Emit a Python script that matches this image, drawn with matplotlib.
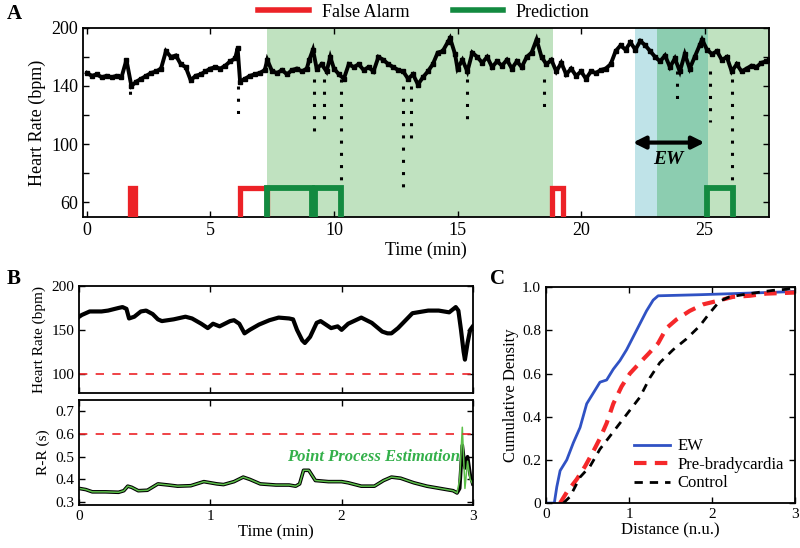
import matplotlib
matplotlib.use("Agg")
import matplotlib.pyplot as plt
from matplotlib.lines import Line2D
import numpy as np

plt.rcParams['font.family'] = ['Liberation Serif', 'DejaVu Serif']
plt.rcParams['mathtext.fontset'] = 'stix'

# ---------------- Panel A data ----------------
hr_t = [0.0, 0.2, 0.4, 0.6, 0.8, 1.0, 1.2, 1.4, 1.6, 1.8, 2.0, 2.2, 2.4, 2.6, 2.8, 3.0,
        3.2, 3.4, 3.6, 3.8, 4.0, 4.2, 4.4, 4.6, 4.8, 5.0, 5.2, 5.4, 5.6, 5.8, 6.0, 6.1,
        6.2, 6.4, 6.6, 6.8, 7.0, 7.2, 7.3, 7.5, 7.7, 7.9, 8.1, 8.3, 8.5, 8.7, 8.9, 9.0,
        9.15, 9.3, 9.5, 9.7, 9.85, 10.0, 10.2, 10.4, 10.6, 10.8, 11.0, 11.2, 11.4, 11.6,
        11.8, 12.0, 12.2, 12.4, 12.6, 12.8, 13.0, 13.2, 13.4, 13.6, 13.8, 14.0, 14.2,
        14.4, 14.6, 14.7, 14.9, 15.0, 15.2, 15.4, 15.6, 15.8, 16.0, 16.2, 16.4, 16.6,
        16.8, 17.0, 17.2, 17.4, 17.6, 17.8, 18.0, 18.2, 18.4, 18.6, 18.8, 19.0, 19.2,
        19.4, 19.6, 19.8, 20.0, 20.2, 20.4, 20.6, 20.8, 21.0, 21.2, 21.4, 21.6, 21.8,
        22.0, 22.2, 22.4, 22.6, 22.8, 23.0, 23.2, 23.4, 23.6, 23.8, 24.0, 24.2, 24.4,
        24.6, 24.8, 24.9, 25.1, 25.3, 25.5, 25.7, 25.9, 26.1, 26.3, 26.5, 26.7, 26.9,
        27.1, 27.3, 27.5, 27.6]
hr_v = [149, 147, 148, 146, 147, 146, 147, 146, 158, 140, 143, 145, 147, 149, 150, 152,
        164, 160, 161, 155, 153, 144, 147, 148, 150, 152, 153, 152, 154, 157, 159, 166,
        143, 145, 147, 148, 149, 151, 158, 150, 149, 151, 148, 151, 152, 150, 152, 158,
        165, 152, 155, 150, 160, 152, 148, 145, 155, 153, 155, 151, 153, 150,
        160, 158, 155, 153, 151, 150, 145, 148, 141, 146, 150, 155, 163,
        164, 170, 173, 162, 152, 158, 150, 163, 160, 156, 160, 153, 157,
        154, 158, 152, 157, 153, 160, 163, 172, 160, 155, 158, 150, 156,
        148, 152, 147, 150, 145, 150, 149, 151, 152, 155, 164, 168, 165,
        170, 165, 171, 168, 164, 160, 157, 161, 153, 159, 150, 162, 152,
        160, 168, 172, 165, 162, 164, 158, 160, 150, 155, 150, 152, 154,
        153, 156, 157, 158]

dip_t = [1.75, 6.1, 9.2, 9.6, 10.3, 12.8, 13.1, 15.4, 18.5, 23.9, 25.2, 26.1]
dip_top = [145, 140, 145, 145, 145, 140, 140, 145, 145, 150, 150, 145]
dip_min = [134, 115, 106, 113, 73, 64, 102, 114, 124, 127, 115, 74]

false_alarm_start = [1.75, 6.2, 18.82]
false_alarm_end = [1.93, 7.27, 19.25]
prediction_start = [7.3, 9.25, 25.1]
prediction_end = [9.12, 10.3, 26.15]

shade_green1 = (7.27, 18.87)
shade_blue = (22.2, 23.07)
shade_dark = (23.07, 25.15)
shade_green2 = (25.15, 27.6)
ew_range = (22.1, 25.0)

yA_ticks = [60, 80, 100, 120, 140, 160, 180]
yA_labels = ['60', '', '100', '', '140', '', '200']

# ---------------- Panel B data ----------------
b_t = [0, 0.02, 0.08, 0.17, 0.22, 0.3, 0.33, 0.36, 0.38, 0.42, 0.47, 0.51, 0.56, 0.6,
       0.63, 0.72, 0.81, 0.86, 0.93, 0.98, 1.02, 1.07, 1.15, 1.18, 1.22, 1.26, 1.3,
       1.37, 1.45, 1.52, 1.6, 1.63, 1.66, 1.7, 1.72, 1.76, 1.81, 1.84, 1.92, 1.97, 2.0,
       2.05, 2.15, 2.23, 2.31, 2.35, 2.38, 2.43, 2.54, 2.66, 2.74, 2.82, 2.87, 2.89,
       2.91, 2.93, 2.94, 2.96, 2.98, 3.0]
b_hr = [165, 167, 171, 171, 172, 175, 176, 174, 163, 165, 171, 172, 168, 162,
        160, 162, 165, 163, 157, 152, 157, 154, 160, 161, 157, 146, 150,
        156, 161, 164, 163, 162, 150, 138, 135, 142, 158, 160, 152, 154, 150,
        157, 164, 158, 148, 146, 146, 152, 169, 172, 172, 170, 176, 172,
        150, 125, 116, 135, 150, 154]

rr_t = [0, 0.05, 0.1, 0.2, 0.3, 0.34, 0.37, 0.4, 0.45, 0.52, 0.6, 0.68, 0.75, 0.85,
        0.95, 1.0, 1.05, 1.1, 1.18, 1.25, 1.3, 1.38, 1.5, 1.6, 1.65, 1.68, 1.71, 1.75,
        1.8, 1.9, 2.0, 2.05, 2.15, 2.25, 2.32, 2.38, 2.45, 2.55, 2.65, 2.75, 2.85, 2.88,
        2.9, 2.92, 2.94, 2.96, 2.98, 3.0]
rr_v = [0.36, 0.355, 0.345, 0.345, 0.343, 0.35, 0.37, 0.365, 0.35, 0.352, 0.38, 0.375,
        0.37, 0.372, 0.39, 0.385, 0.38, 0.377, 0.39, 0.41, 0.40, 0.38, 0.375, 0.375,
        0.37, 0.38, 0.44, 0.44, 0.395, 0.39, 0.39, 0.385, 0.37, 0.37, 0.395, 0.41,
        0.405, 0.385, 0.37, 0.36, 0.35, 0.34, 0.36, 0.55, 0.45, 0.50, 0.42, 0.38]
pp_v = [0.36, 0.355, 0.345, 0.345, 0.343, 0.35, 0.37, 0.365, 0.35, 0.352, 0.38, 0.375,
        0.37, 0.372, 0.39, 0.385, 0.38, 0.377, 0.39, 0.41, 0.40, 0.38, 0.375, 0.375,
        0.37, 0.38, 0.44, 0.44, 0.395, 0.39, 0.39, 0.385, 0.37, 0.37, 0.395, 0.41,
        0.405, 0.385, 0.37, 0.36, 0.35, 0.34, 0.40, 0.63, 0.36, 0.48, 0.40, 0.38]

# ---------------- Panel C data ----------------
ew_x = [0, 0.1, 0.13, 0.17, 0.25, 0.33, 0.41, 0.49, 0.57, 0.65, 0.73, 0.81, 0.89, 0.97,
        1.05, 1.13, 1.21, 1.29, 1.35, 1.85, 2.25, 2.65, 3.0]
ew_y = [0, 0, 0.075, 0.15, 0.2, 0.28, 0.35, 0.46, 0.51, 0.56, 0.57, 0.62, 0.66, 0.71,
        0.77, 0.83, 0.89, 0.94, 0.96, 0.965, 0.97, 0.975, 0.98]
pb_x = [0.17, 0.25, 0.37, 0.47, 0.57, 0.65, 0.73, 0.81, 0.91, 1.01, 1.13, 1.23, 1.35,
        1.45, 1.57, 1.73, 1.89, 2.05, 2.25, 2.45, 2.65, 3.0]
pb_y = [0, 0.05, 0.11, 0.17, 0.24, 0.30, 0.37, 0.46, 0.54, 0.60, 0.65, 0.69, 0.74,
        0.81, 0.85, 0.89, 0.92, 0.935, 0.955, 0.96, 0.97, 0.975]
ct_x = [0.21, 0.29, 0.41, 0.53, 0.65, 0.77, 0.89, 1.01, 1.13, 1.25, 1.37, 1.53, 1.69,
        1.85, 1.97, 2.09, 2.21, 2.45, 2.73, 2.89, 3.0]
ct_y = [0, 0.03, 0.12, 0.17, 0.25, 0.31, 0.37, 0.43, 0.49, 0.58, 0.65, 0.71, 0.76,
        0.82, 0.88, 0.935, 0.955, 0.97, 0.985, 0.99, 1.0]

RED = '#ec2227'
GREEN = '#138a40'
LIGHT_GREEN = '#c0e2c0'
LIGHT_BLUE = '#bfe3e8'
MID_GREEN = '#8ccdb0'

fig = plt.figure(figsize=(8, 5.48), dpi=100)

def style(ax, size):
    ax.tick_params(direction='in', top=True, right=True, labelsize=size, length=4, width=1)
    for s in ax.spines.values():
        s.set_linewidth(1.3)

# ---------------- Panel A ----------------
axA = fig.add_axes([0.104, 0.604, 0.857, 0.345])
xlimA = (-0.15, 27.6)
ylimA = (49.7, 180)
axA.axvspan(*shade_green1, color=LIGHT_GREEN, lw=0, zorder=0)
axA.axvspan(*shade_blue, color=LIGHT_BLUE, lw=0, zorder=0)
axA.axvspan(*shade_dark, color=MID_GREEN, lw=0, zorder=0)
axA.axvspan(*shade_green2, color=LIGHT_GREEN, lw=0, zorder=0)
axA.plot(hr_t, hr_v, color='black', lw=2.8, marker='s', ms=2.5, zorder=3,
         solid_joinstyle='miter')
for t, top, mn in zip(dip_t, dip_top, dip_min):
    axA.plot([t, t], [top, mn], color='black', lw=2.2, ls=(0, (1, 3)), zorder=3)
bracket_top = 70
for s, e in zip(false_alarm_start, false_alarm_end):
    axA.plot([s, s, e, e], [ylimA[0], bracket_top, bracket_top, ylimA[0]], color=RED,
             lw=3.8, solid_joinstyle='miter', solid_capstyle='butt', zorder=4)
for s, e in zip(prediction_start, prediction_end):
    axA.plot([s, s, e, e], [ylimA[0], bracket_top, bracket_top, ylimA[0]], color=GREEN,
             lw=4.2, solid_joinstyle='miter', solid_capstyle='butt', zorder=5)
axA.annotate('', xy=(ew_range[0], 101), xytext=(ew_range[1], 101),
             arrowprops=dict(arrowstyle='<|-|>', lw=3, color='black', mutation_scale=18,
                             shrinkA=0, shrinkB=0), zorder=6)
axA.text(sum(ew_range) / 2, 89, 'EW', fontsize=14, fontstyle='italic', fontweight='bold',
         ha='center', va='center')
axA.set_xlim(*xlimA)
axA.set_ylim(*ylimA)
axA.set_xticks([0, 5, 10, 15, 20, 25])
axA.set_yticks(yA_ticks)
axA.set_yticklabels(yA_labels)
style(axA, 13)
axA.set_xlabel('Time (min)', fontsize=13, labelpad=2)
axA.set_ylabel('Heart Rate (bpm)', fontsize=13, labelpad=4)

leg_handles = [Line2D([], [], color=RED, lw=4), Line2D([], [], color=GREEN, lw=4)]
fig.legend(leg_handles, ['False Alarm', 'Prediction'], loc='center', ncol=2,
           bbox_to_anchor=(0.53, 0.978), frameon=False, fontsize=13, handlelength=2.8,
           columnspacing=2.4, handletextpad=0.7)

# ---------------- Panel B ----------------
axB1 = fig.add_axes([0.099, 0.283, 0.492, 0.195])
axB1.plot(b_t, b_hr, color='black', lw=3.0)
axB1.axhline(100, color=RED, ls=(0, (5, 5)), lw=1.2)
axB1.set_xlim(0, 3)
axB1.set_ylim(78, 200)
axB1.set_xticks([0, 1, 2, 3])
axB1.set_xticklabels([])
axB1.set_yticks([100, 150, 200])
style(axB1, 11)
axB1.set_ylabel('Heart Rate (bpm)', fontsize=11, labelpad=4)

axB2 = fig.add_axes([0.099, 0.0785, 0.492, 0.1915])
axB2.plot(rr_t, rr_v, color='black', lw=2.6)
axB2.plot(rr_t, pp_v, color='#5cc04a', lw=1.1)
axB2.axhline(0.6, color=RED, ls=(0, (5, 5)), lw=1.2)
axB2.text(2.9, 0.5, 'Point Process Estimation', color='#33b04a', fontsize=12,
          fontstyle='italic', fontweight='bold', ha='right', va='center')
axB2.set_xlim(0, 3)
axB2.set_ylim(0.287, 0.75)
axB2.set_xticks([0, 1, 2, 3])
axB2.set_yticks([0.3, 0.4, 0.5, 0.6, 0.7])
axB2.set_yticklabels(['0.3', '0.4', '0.5', '0.6', '0.7'])
style(axB2, 11)
axB2.set_ylabel('R-R (s)', fontsize=11, labelpad=4)
axB2.set_xlabel('Time (min)', fontsize=12, labelpad=1)

# ---------------- Panel C ----------------
axC = fig.add_axes([0.6825, 0.082, 0.3115, 0.394])
axC.plot(ew_x, ew_y, color='#3052c4', lw=2.0, label='EW')
axC.plot(pb_x, pb_y, color='#f5282a', lw=3.0, ls=(0, (3, 2)), label='Pre-bradycardia')
axC.plot(ct_x, ct_y, color='black', lw=2.0, ls=(0, (3, 2.5)), label='Control')
axC.set_xlim(0, 3)
axC.set_ylim(0, 1)
axC.set_xticks([0, 1, 2, 3])
axC.set_yticks([0, 0.2, 0.4, 0.6, 0.8, 1.0])
axC.set_yticklabels(['0', '0.2', '0.4', '0.6', '0.8', '1.0'])
style(axC, 11)
axC.set_xlabel('Distance (n.u.)', fontsize=12, labelpad=1)
axC.set_ylabel('Cumulative Density', fontsize=12, labelpad=2)
axC.legend(loc='lower right', frameon=False, fontsize=12, handlelength=2.2,
           handletextpad=0.4, labelspacing=0.15, borderaxespad=0.3)

# ---------------- Panel letters ----------------
fig.text(0.008, 0.975, 'A', fontsize=15, fontweight='bold', va='center')
fig.text(0.008, 0.49, 'B', fontsize=15, fontweight='bold', va='center')
fig.text(0.612, 0.49, 'C', fontsize=15, fontweight='bold', va='center')

fig.savefig('out.png', dpi=100)
